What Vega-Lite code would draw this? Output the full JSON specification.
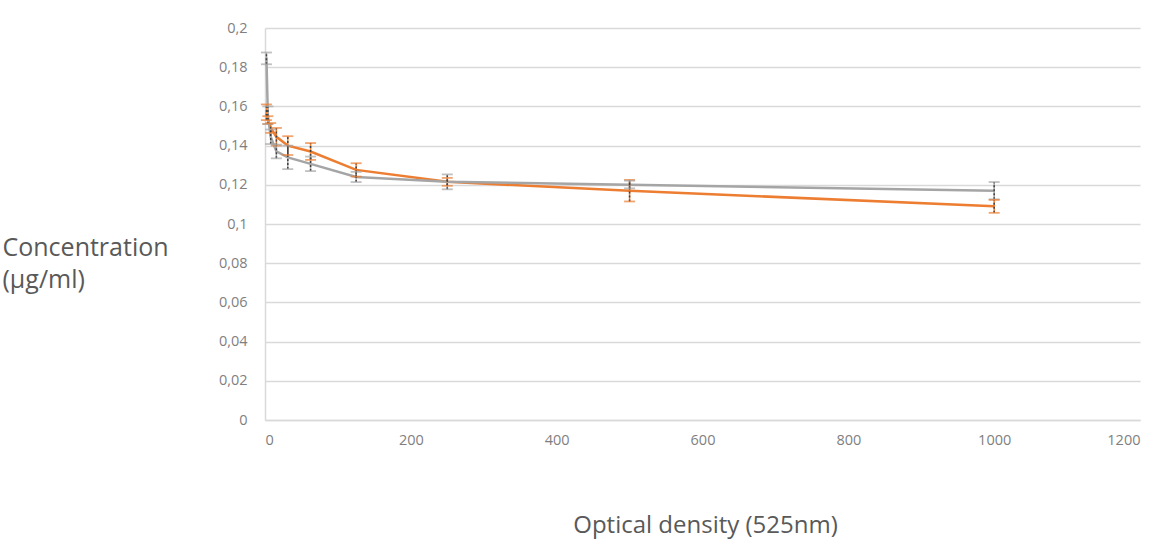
{
  "$schema": "https://vega.github.io/schema/vega-lite/v6.json",
  "autosize": "none",
  "width": 875,
  "height": 392,
  "padding": {"left": 265, "top": 28, "right": 29, "bottom": 120},
  "background": "white",
  "config": {"view": {"stroke": null}, "font": "Open Sans"},
  "data": {"values": [
    {"series": "A", "x": 1.95, "y": 0.157, "lo": 0.153, "hi": 0.161},
    {"series": "A", "x": 3.9, "y": 0.153, "lo": 0.151, "hi": 0.155},
    {"series": "A", "x": 7.8, "y": 0.149, "lo": 0.1465, "hi": 0.1515},
    {"series": "A", "x": 15.6, "y": 0.1445, "lo": 0.14, "hi": 0.149},
    {"series": "A", "x": 31.25, "y": 0.14, "lo": 0.1352, "hi": 0.1448},
    {"series": "A", "x": 62.5, "y": 0.137, "lo": 0.1327, "hi": 0.1413},
    {"series": "A", "x": 125, "y": 0.1276, "lo": 0.1242, "hi": 0.131},
    {"series": "A", "x": 250, "y": 0.1215, "lo": 0.1195, "hi": 0.1235},
    {"series": "A", "x": 500, "y": 0.117, "lo": 0.1115, "hi": 0.1225},
    {"series": "A", "x": 1000, "y": 0.109, "lo": 0.1057, "hi": 0.1123},
    {"series": "B", "x": 1.95, "y": 0.185, "lo": 0.1815, "hi": 0.1875},
    {"series": "B", "x": 3.9, "y": 0.1555, "lo": 0.151, "hi": 0.16},
    {"series": "B", "x": 7.8, "y": 0.1445, "lo": 0.1408, "hi": 0.1482},
    {"series": "B", "x": 15.6, "y": 0.137, "lo": 0.1335, "hi": 0.1405},
    {"series": "B", "x": 31.25, "y": 0.134, "lo": 0.128, "hi": 0.14},
    {"series": "B", "x": 62.5, "y": 0.1307, "lo": 0.127, "hi": 0.1344},
    {"series": "B", "x": 125, "y": 0.124, "lo": 0.1214, "hi": 0.1266},
    {"series": "B", "x": 250, "y": 0.1215, "lo": 0.1177, "hi": 0.1253},
    {"series": "B", "x": 500, "y": 0.12, "lo": 0.1182, "hi": 0.1221},
    {"series": "B", "x": 1000, "y": 0.117, "lo": 0.1126, "hi": 0.1214}
  ]},
  "encoding": {
    "x": {"field": "x", "type": "quantitative",
      "scale": {"domain": [0, 1200], "nice": false},
      "axis": {"values": [0, 200, 400, 600, 800, 1000, 1200], "format": "d", "grid": false, "ticks": false,
        "domainColor": "#d9d9d9", "domainWidth": 1.5,
        "labelFont": "Open Sans", "labelFontSize": 14.5, "labelColor": "#7f7f7f", "labelPadding": 13,
        "title": "Optical density (525nm)", "titleFont": "Open Sans", "titleFontSize": 24, "titleFontWeight": "normal",
        "titleColor": "#595959", "titleBaseline": "alphabetic", "titleY": 112, "titleX": 440}
    },
    "y": {"field": "y", "type": "quantitative",
      "scale": {"domain": [0, 0.2], "nice": false},
      "axis": {"values": [0, 0.02, 0.04, 0.06, 0.08, 0.1, 0.12, 0.14, 0.16, 0.18, 0.2],
        "labelExpr": "replace(format(datum.value, '~g'), '.', ',')",
        "grid": true, "gridColor": "#d9d9d9", "gridWidth": 1.5, "ticks": false,
        "domainColor": "#d9d9d9", "domainWidth": 1.5,
        "labelFont": "Open Sans", "labelFontSize": 14.5, "labelColor": "#7f7f7f", "labelPadding": 18,
        "title": ["Concentration", "(µg/ml)"], "titleFont": "Open Sans", "titleFontSize": 25, "titleFontWeight": "normal",
        "titleColor": "#595959", "titleAngle": 0, "titleAlign": "left", "titleBaseline": "alphabetic",
        "titleX": -263, "titleY": 227, "titleLineHeight": 32}
    }
  },
  "layer": [
    {
      "mark": {"type": "line", "strokeWidth": 2.5},
      "encoding": {
        "color": {"field": "series", "type": "nominal", "legend": null,
          "scale": {"domain": ["A", "B"], "range": ["#ED7D31", "#A5A5A5"]}}
      }
    },
    {
      "mark": {"type": "rule", "strokeWidth": 1.5},
      "encoding": {
        "y": {"field": "lo", "type": "quantitative"},
        "y2": {"field": "hi"},
        "color": {"field": "series", "type": "nominal", "legend": null,
          "scale": {"domain": ["A", "B"], "range": ["#ED7D31", "#5B9BD5"]}}
      }
    },
    {
      "mark": {"type": "rule", "strokeWidth": 1.5, "color": "#404040", "strokeDash": [2, 2]},
      "encoding": {
        "y": {"field": "lo", "type": "quantitative"},
        "y2": {"field": "hi"}
      }
    },
    {
      "mark": {"type": "tick", "orient": "horizontal", "size": 11, "thickness": 1.8},
      "encoding": {
        "y": {"field": "lo", "type": "quantitative"},
        "color": {"field": "series", "type": "nominal", "legend": null,
          "scale": {"domain": ["A", "B"], "range": ["#ED7D31", "#5B9BD5"]}}
      }
    },
    {
      "mark": {"type": "tick", "orient": "horizontal", "size": 11, "thickness": 1.8},
      "encoding": {
        "y": {"field": "hi", "type": "quantitative"},
        "color": {"field": "series", "type": "nominal", "legend": null,
          "scale": {"domain": ["A", "B"], "range": ["#ED7D31", "#5B9BD5"]}}
      }
    }
  ]
}
